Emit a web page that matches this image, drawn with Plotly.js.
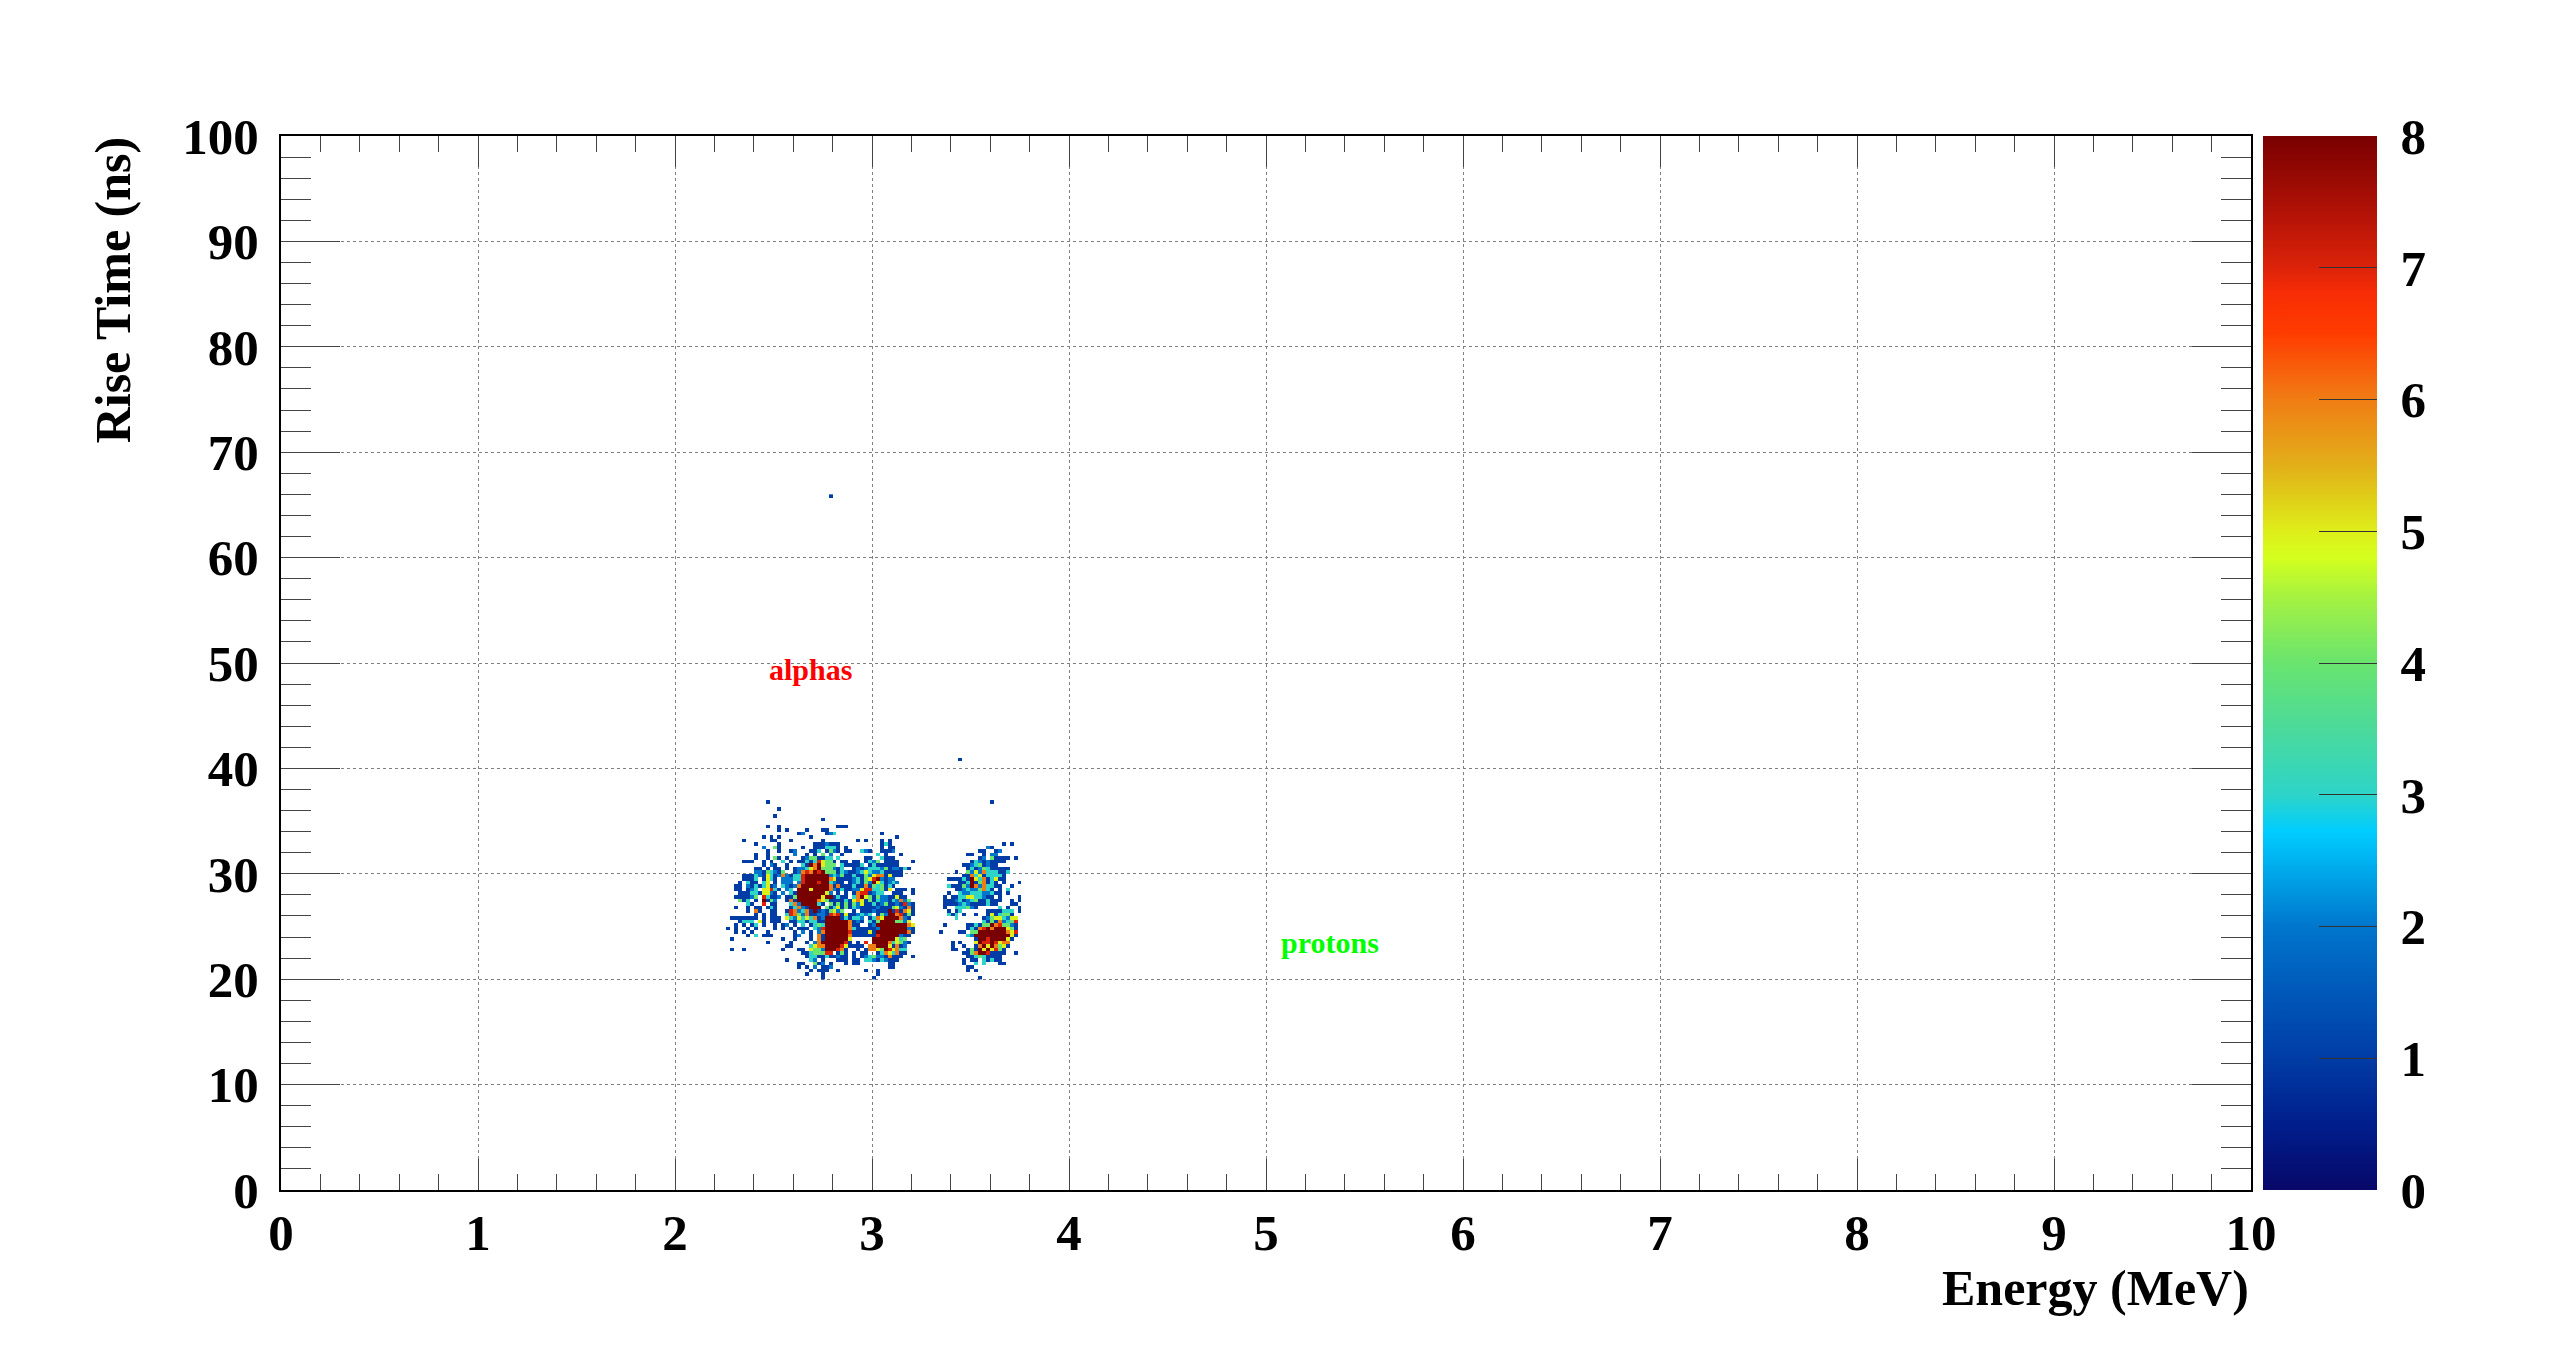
<!DOCTYPE html>
<html><head><meta charset="utf-8">
<script src="https://cdn.plot.ly/plotly-3.0.1.min.js"></script>
<style>html,body{margin:0;padding:0;background:#fff;} #chart{width:2558px;height:1362px;}</style>
</head><body><div id="chart"></div>
<script>
// Histogram binning (Energy in MeV, Rise Time in ns)
const energyBinStart = 2.20;
const energyBinWidth = 0.02;
const riseBinStart = 20;
const riseBinWidth = 1 / 3;
const nEnergyBins = 79;

// Bin counts: one string per rise-time bin row, top row first.
// '.' = empty, digit = counts (8 = saturated). Groups of 10 energy bins separated by spaces.
const countRowsTopDown = [
".......... ...1...... .......... .......... .......... .......... .......... 1........",
"",
".......... ......1...",
"",
".......... .....1....",
".......... .......... .......1..",
"",
".......... ...1..1... .......... .111......",
".......... ......1.1. ...1...11.",
".......... .......... .12.....12 3......... ..1.......",
".......... ..1.1.1... ....1..... .......... ......1...",
".......1.. ....11...1 .......1.. ......1.1. ..1.1.....",
".......... 1.....1... .....11121 11........ ..131..... .......... .......... ...1.1...",
".......... ..2..41... ..1..11133 31.1...... ..1.11.... .......... .........2 1........",
".......... ...1..1..1 2...113.14 21.11..321 ..1112.... .......... .......11. .12......",
".......... 1..1...... 2..1.1.4.2 ..1....... .3.1...1.. .......... ....11..1. 22.......",
".......... 1..1.41.1. ..12441133 .3......11 ..3111.... .......... .......12. 41111.1..",
".......111 ..1.1..3.1 .113137544 1.11.11.13 24.1111... 1......... .....13212 1111.....",
".......... ..1.21..1. ..31868544 4.311113.1 3111111... .......... ...1123412 11.......",
".......... 11.1.11.1. 1223568444 213..12123 3324122131 .......... ....131243 11111....",
".......... 22143214.. 1267687844 4132112353 22311111.. .......... .1..425263 33113....",
".......111 3215312621 3378888882 3241131142 56615111.. .......... ...1163513 3331.....",
".......111 3.1531.222 3378888886 5111123145 782122.... .........1 1113185361 3511.....",
"......1.31 1.35.1.222 .278887883 211.123142 8531232... .......... ..11381461 31.1...1.",
".....11.21 313512.321 2688888886 1611131161 434131.... .........3 1114286263 311..1...",
".....11.12 3.55731.23 .888588886 2131122577 33415.111. 1......... .112322463 1.1.3....",
"......1113 315521.2.3 1888888852 .1.1.16771 233..111.. 1........1 ..32233322 311.1....",
".....11112 4.73112.11 4888888588 1311.36854 142211511. ........1. 1133553321 1.1....1.",
"......413. 1.8142..16 1888886541 1113156514 1322132624 ........11 1231234113 111..1.1.",
"........31 ..7.11...3 62888831.4 1414142511 3124112172 1.......11 1123211113 11...11..",
".....1..1. 11.131...1 3621888.41 3514132111 1211145216 1.......1. .333421... ..3.1..1.",
"........1. 61..11..17 6236181214 524..1.111 2111817165 1........1 .13......1 111333.1.",
".......... 1.1.11..37 6426112217 6715112323 .142886714 1........3 13.1..1..1 513441...",
"....111111 1.1.111.53 2535361288 88131332.1 3658888621 .......... .3......12 4553255..",
"......1333 .51.111..1 1331331188 88886121.3 1488884425 .......... ........31 4162347..",
".....1.1.1 3.1..1.12. 1.3.134388 8888611..1 2888888886 5.......1. ....113144 8674421..",
"...1.1..1. 1....1.1.1 .111.32788 8888631111 1288888882 1......... ....131678 6888541..",
".....1.1.1 ...1...... 1.2.1.2688 8888711115 1888888886 1......1.. ..11.44888 8888657..",
"........1. 3.111..... 12..1.6188 8888611111 1788888211 .......... ....328888 8888851..",
"....1..... .......1.. 1...1.6188 88885..... 888888534. .......... ......1887 888851...",
".......... ...1.....1 ...1.26888 88871.1.7. 8888635421 .......... 1.1...5877 87566....",
".......... ........11 ....356688 88751111.6 688851612. .......... 1..1..1685 86451....",
"....1..1.. .......1.. .11.544288 8761..1.16 654875633. .......... 11..141858 5741.....",
".......... .......... ..11344477 .141.1.11. .13653611. .......... ...1146887 1111..1..",
".......... .......... ...1331131 1211.1.123 42216111.. 1......... ....113431 111......",
".......... ........1. ....32.1.. .111.11.33 2132111... .......... ...1.11.31 311......",
".......... .......... .11..412.1 ...1.11... ....11.... .......... ...1..3.3. ..11.....",
".......... .......... .1.1.2.112 .......... ....11.... .......... ....11.... .........",
".......... .......... ....1.111. .1......1. .1........ .......... ....1.1... .........",
".......... .......... ...1...1.. .......... .1........",
".......... .......... .......1.. .......... 1......... .......... .......1.."
];

// Isolated single entries far from the clusters
const isolatedEnergy = [2.79, 3.45];
const isolatedRise = [65.8, 40.8];
const isolatedCount = [1, 1];

const colorbarTickValues = [0, 1, 2, 3, 4, 5, 6, 7, 8];
const labelTexts = ["alphas", "protons"];
const labelEnergy = [2.688, 5.325];
const labelRise = [49.35, 23.45];
const labelColors = ["#ff0000", "#00ff00"];

// ---- build the 2D histogram matrix ----
const gridRows = countRowsTopDown.length;
let nRiseBins = gridRows;
const isoRowIdx = isolatedRise.map(t => Math.floor((t - riseBinStart) / riseBinWidth + 1e-9));
const isoColIdx = isolatedEnergy.map(e => Math.floor((e - energyBinStart) / energyBinWidth + 1e-9));
isoRowIdx.forEach(r => { if (r + 1 > nRiseBins) nRiseBins = r + 1; });

const z = [];
for (let j = 0; j < nRiseBins; j++) z.push(new Array(nEnergyBins).fill(null));
countRowsTopDown.forEach((s, k) => {
  const j = gridRows - 1 - k;
  if (!s) return;
  s.split(' ').forEach((g, gi) => {
    for (let c = 0; c < 10 && c < g.length; c++) {
      const col = gi * 10 + c;
      const ch = g[c];
      if (col < nEnergyBins && ch >= '1' && ch <= '9') z[j][col] = Number(ch);
    }
  });
});
isolatedCount.forEach((n, k) => {
  const r = isoRowIdx[k], c = isoColIdx[k];
  z[r][c] = (z[r][c] || 0) + n;
});
const xCenters = [], yCenters = [];
for (let i = 0; i < nEnergyBins; i++) xCenters.push(energyBinStart + (i + 0.5) * energyBinWidth);
for (let j = 0; j < nRiseBins; j++) yCenters.push(riseBinStart + (j + 0.5) * riseBinWidth);

const FONT = 'Liberation Serif, Times New Roman, serif';
const colorscale = [
  [0.000, 'rgb(8,8,105)'],
  [0.0625, 'rgb(0,30,140)'],
  [0.125, 'rgb(0,60,165)'],
  [0.1875, 'rgb(0,88,185)'],
  [0.250, 'rgb(0,118,205)'],
  [0.3125, 'rgb(0,178,240)'],
  [0.340, 'rgb(0,205,255)'],
  [0.375, 'rgb(45,212,200)'],
  [0.4375, 'rgb(75,218,155)'],
  [0.500, 'rgb(105,228,110)'],
  [0.5625, 'rgb(165,242,65)'],
  [0.600, 'rgb(212,255,30)'],
  [0.625, 'rgb(222,238,25)'],
  [0.6875, 'rgb(226,175,25)'],
  [0.750, 'rgb(240,125,20)'],
  [0.8125, 'rgb(255,60,0)'],
  [0.850, 'rgb(248,45,5)'],
  [0.875, 'rgb(220,35,10)'],
  [0.9375, 'rgb(170,15,5)'],
  [1.000, 'rgb(120,0,0)']
];

const trace = {
  type: 'heatmap', x: xCenters, y: yCenters, z: z,
  zmin: 0, zmax: 8, colorscale: colorscale, hoverinfo: 'skip',
  colorbar: {
    thickness: 114, thicknessmode: 'pixels', len: 1, lenmode: 'fraction',
    x: 1.0061, xanchor: 'left', y: 0.5, yanchor: 'middle', xpad: 0, ypad: 0,
    outlinewidth: 0, ticks: 'inside', ticklen: 58, tickwidth: 1, tickcolor: '#333',
    tickmode: 'array', tickvals: colorbarTickValues, ticktext: colorbarTickValues.map(v => '\u2005' + v),
    tickfont: {family: FONT, size: 51, color: '#000', weight: 'bold'}
  }
};

const axisCommon = {
  ticks: 'inside', tickwidth: 1, tickcolor: '#444',
  showline: true, linecolor: '#000', linewidth: 2, mirror: 'ticks',
  showgrid: true, gridcolor: '#808080', griddash: 'dot', gridwidth: 1,
  zeroline: false, fixedrange: true,
  tickfont: {family: FONT, size: 51, color: '#000', weight: 'bold'}
};

const layout = {
  width: 2558, height: 1362, autosize: false,
  margin: {l: 281, r: 307, t: 136, b: 172, pad: 0},
  paper_bgcolor: '#fff', plot_bgcolor: '#fff',
  xaxis: Object.assign({}, axisCommon, {
    range: [0, 10], tickmode: 'linear', tick0: 0, dtick: 1, ticklen: 31, ticklabelstandoff: -3,
    minor: {dtick: 0.2, ticks: 'inside', ticklen: 16, tickwidth: 1, tickcolor: '#444', showgrid: false}
  }),
  yaxis: Object.assign({}, axisCommon, {
    range: [0, 100], tickmode: 'linear', tick0: 0, dtick: 10, ticklen: 59, ticklabelstandoff: 10,
    minor: {dtick: 2, ticks: 'inside', ticklen: 30, tickwidth: 1, tickcolor: '#444', showgrid: false}
  }),
  annotations: [
    {text: 'Energy (MeV)', xref: 'paper', yref: 'paper', x: 1, xanchor: 'right', y: -0.093, yanchor: 'middle',
     showarrow: false, font: {family: FONT, size: 50, color: '#000', weight: 'bold'}},
    {text: 'Rise Time (ns)', xref: 'paper', yref: 'paper', x: -0.0853, xanchor: 'center', y: 1.002, yanchor: 'top',
     textangle: -90, showarrow: false, font: {family: FONT, size: 50, color: '#000', weight: 'bold'}}
  ].concat(labelTexts.map((t, k) => ({
    text: t, xref: 'x', yref: 'y', x: labelEnergy[k], y: labelRise[k], xanchor: 'center', yanchor: 'middle',
    showarrow: false, font: {family: FONT, size: 30, color: labelColors[k], weight: 'bold'}
  }))),
  showlegend: false
};

Plotly.newPlot('chart', [trace], layout, {staticPlot: true, displayModeBar: false});
</script>
</body></html>
